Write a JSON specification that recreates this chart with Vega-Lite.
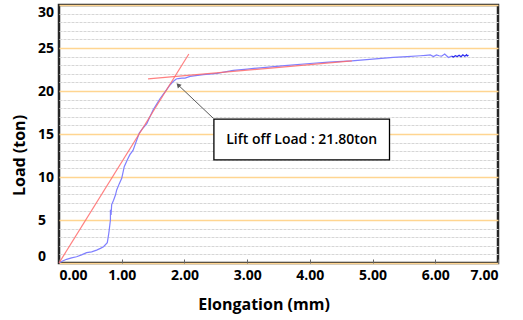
{
  "$schema": "https://vega.github.io/schema/vega-lite/v6.json",
  "autosize": "none",
  "width": 439,
  "height": 258,
  "padding": {"left": 59, "top": 5, "right": 25, "bottom": 57},
  "background": "white",
  "config": {
    "view": {"stroke": "#262626", "strokeWidth": 2.5},
    "font": "Open Sans"
  },
  "datasets": {
    "curve": [
      {"x": 0, "y": 0, "s": "a"}, {"x": 0.05, "y": 0.2, "s": "a"}, {"x": 0.12, "y": 0.43, "s": "a"}, {"x": 0.2, "y": 0.6, "s": "a"},
      {"x": 0.28, "y": 0.73, "s": "a"}, {"x": 0.36, "y": 0.95, "s": "a"}, {"x": 0.44, "y": 1.2, "s": "a"}, {"x": 0.52, "y": 1.3, "s": "a"},
      {"x": 0.6, "y": 1.5, "s": "a"}, {"x": 0.66, "y": 1.7, "s": "a"}, {"x": 0.71, "y": 1.9, "s": "a"}, {"x": 0.77, "y": 2.36, "s": "a"},
      {"x": 0.78, "y": 2.8, "s": "a"}, {"x": 0.79, "y": 3.26, "s": "a"}, {"x": 0.8, "y": 3.8, "s": "a"}, {"x": 0.81, "y": 4.4, "s": "a"},
      {"x": 0.82, "y": 5.0, "s": "a"}, {"x": 0.83, "y": 5.6, "s": "a"}, {"x": 0.82, "y": 6.2, "s": "a"}, {"x": 0.84, "y": 6.8, "s": "a"},
      {"x": 0.87, "y": 7.3, "s": "a"}, {"x": 0.9, "y": 7.9, "s": "a"}, {"x": 0.92, "y": 8.5, "s": "a"}, {"x": 0.96, "y": 9.2, "s": "a"},
      {"x": 1.0, "y": 9.85, "s": "a"}, {"x": 1.02, "y": 10.5, "s": "a"}, {"x": 1.04, "y": 11.2, "s": "a"}, {"x": 1.09, "y": 12.0, "s": "a"},
      {"x": 1.13, "y": 12.6, "s": "a"}, {"x": 1.18, "y": 13.1, "s": "a"}, {"x": 1.23, "y": 14.1, "s": "a"}, {"x": 1.28, "y": 15.1, "s": "a"},
      {"x": 1.34, "y": 15.7, "s": "a"}, {"x": 1.4, "y": 16.2, "s": "a"}, {"x": 1.45, "y": 17.0, "s": "a"}, {"x": 1.5, "y": 17.8, "s": "a"},
      {"x": 1.56, "y": 18.5, "s": "a"}, {"x": 1.61, "y": 19.1, "s": "a"}, {"x": 1.67, "y": 19.7, "s": "a"}, {"x": 1.72, "y": 20.2, "s": "a"},
      {"x": 1.77, "y": 20.7, "s": "a"}, {"x": 1.82, "y": 21.1, "s": "a"}, {"x": 1.87, "y": 21.4, "s": "a"}, {"x": 1.9, "y": 21.45, "s": "a"},
      {"x": 1.96, "y": 21.5, "s": "a"}, {"x": 2.01, "y": 21.5, "s": "a"}, {"x": 2.09, "y": 21.7, "s": "a"}, {"x": 2.3, "y": 21.9, "s": "a"},
      {"x": 2.52, "y": 22.05, "s": "a"}, {"x": 2.78, "y": 22.4, "s": "a"}, {"x": 3.0, "y": 22.55, "s": "a"}, {"x": 3.21, "y": 22.7, "s": "a"},
      {"x": 3.6, "y": 22.95, "s": "a"}, {"x": 4.0, "y": 23.2, "s": "a"}, {"x": 4.3, "y": 23.35, "s": "a"}, {"x": 4.67, "y": 23.5, "s": "a"},
      {"x": 5.0, "y": 23.7, "s": "a"}, {"x": 5.33, "y": 23.9, "s": "a"}, {"x": 5.55, "y": 24.0, "s": "a"}, {"x": 5.76, "y": 24.1, "s": "a"},
      {"x": 5.85, "y": 24.15, "s": "a"}, {"x": 5.92, "y": 24.2, "s": "a"}, {"x": 5.97, "y": 24.0, "s": "a"}, {"x": 6.02, "y": 24.2, "s": "a"},
      {"x": 6.06, "y": 24.1, "s": "a"}, {"x": 6.1, "y": 24.05, "s": "a"}, {"x": 6.15, "y": 24.3, "s": "a"}, {"x": 6.21, "y": 23.9, "s": "a"},
      {"x": 6.26, "y": 24.05, "s": "a"},
      {"x": 6.26, "y": 24.05, "s": "b"}, {"x": 6.29, "y": 23.95, "s": "b"}, {"x": 6.32, "y": 24.1, "s": "b"}, {"x": 6.35, "y": 24.0, "s": "b"},
      {"x": 6.38, "y": 24.15, "s": "b"}, {"x": 6.41, "y": 23.98, "s": "b"}, {"x": 6.44, "y": 24.2, "s": "b"}, {"x": 6.47, "y": 24.05, "s": "b"},
      {"x": 6.5, "y": 24.22, "s": "b"}, {"x": 6.53, "y": 24.15, "s": "b"}, {"x": 6.51, "y": 24.08, "s": "b"}
    ],
    "fits": [
      {"x": 0, "y": 0, "line": "elastic"}, {"x": 2.07, "y": 24.3, "line": "elastic"},
      {"x": 1.42, "y": 21.4, "line": "plastic"}, {"x": 4.67, "y": 23.5, "line": "plastic"}
    ],
    "note": [
      {"x1": 2.47, "x2": 5.27, "y1": 16.72, "y2": 11.98, "xc": 3.87, "yc": 14.34, "label": "Lift off Load : 21.80ton",
       "ax1": 2.46, "ay1": 16.83, "ax2": 1.9, "ay2": 20.7}
    ]
  },
  "layer": [
    {
      "data": {"name": "curve"},
      "mark": {"type": "line", "strokeWidth": 1.2, "clip": true},
      "encoding": {
        "x": {
          "field": "x", "type": "quantitative",
          "scale": {"domain": [0, 7], "nice": false, "zero": false},
          "axis": {
            "title": "Elongation (mm)", "values": [0, 1, 2, 3, 4, 5, 6, 7], "tickCount": 8, "format": ".2f", "grid": false,
            "domain": false, "tickSize": -4, "tickColor": "#666", "labelPadding": 9,
            "labelFont": "Open Sans", "labelFontSize": 14, "labelFontWeight": "bold", "labelColor": "#000",
            "titleFont": "Open Sans", "titleFontSize": 16, "titleFontWeight": "bold", "titleColor": "#000",
            "titleX": 204.5, "titleY": 46, "titleBaseline": "alphabetic", "titleAnchor": "middle"
          }
        },
        "y": {
          "field": "y", "type": "quantitative",
          "scale": {"domain": [0, 30], "nice": false},
          "axis": {
            "title": "Load (ton)",
            "values": [0, 1, 2, 3, 4, 5, 6, 7, 8, 9, 10, 11, 12, 13, 14, 15, 16, 17, 18, 19, 20, 21, 22, 23, 24, 25, 26, 27, 28, 29, 30],
            "tickCount": 40,
            "labelExpr": "datum.value % 5 === 0 ? datum.label : ''",
            "labelOverlap": false,
            "labelFlush": true, "ticks": false, "domain": false,
            "labelAlign": "left", "labelPadding": 21.5,
            "labelFont": "Open Sans", "labelFontSize": 14, "labelFontWeight": "bold", "labelColor": "#000",
            "grid": true,
            "gridColor": {"condition": {"test": "datum.value % 5 === 0", "value": "#FFD591"}, "value": "#D6D6D6"},
            "gridDash": {"condition": {"test": "datum.value % 5 === 0", "value": []}, "value": [3, 1]},
            "gridWidth": {"condition": {"test": "datum.value % 5 === 0", "value": 1.6}, "value": 1},
            "titleFont": "Open Sans", "titleFontSize": 16, "titleFontWeight": "bold", "titleColor": "#000",
            "titleAngle": -90, "titleX": -40, "titleY": 150, "titleAlign": "center", "titleBaseline": "middle"
          }
        },
        "detail": {"field": "s"},
        "color": {"field": "s", "type": "nominal", "scale": {"domain": ["a", "b"], "range": ["#7F7FFF", "#2626F0"]}, "legend": null}
      }
    },
    {
      "data": {"name": "fits"},
      "mark": {"type": "line", "strokeWidth": 1.2, "color": "#FF6A6A", "opacity": 0.85},
      "encoding": {
        "x": {"field": "x", "type": "quantitative"},
        "y": {"field": "y", "type": "quantitative"},
        "detail": {"field": "line"}
      }
    },
    {
      "data": {"name": "note"},
      "mark": {"type": "rule", "color": "#595959", "strokeWidth": 1},
      "encoding": {
        "x": {"field": "ax1", "type": "quantitative"},
        "y": {"field": "ay1", "type": "quantitative"},
        "x2": {"field": "ax2"},
        "y2": {"field": "ay2"}
      }
    },
    {
      "data": {"name": "note"},
      "mark": {"type": "point", "shape": "triangle-up", "filled": true, "color": "#595959", "size": 28, "angle": -45, "opacity": 1},
      "encoding": {
        "x": {"field": "ax2", "type": "quantitative"},
        "y": {"field": "ay2", "type": "quantitative"}
      }
    },
    {
      "data": {"name": "note"},
      "mark": {"type": "rect", "fill": "white", "stroke": "#000", "strokeWidth": 1.3},
      "encoding": {
        "x": {"field": "x1", "type": "quantitative"},
        "x2": {"field": "x2"},
        "y": {"field": "y1", "type": "quantitative"},
        "y2": {"field": "y2"}
      }
    },
    {
      "data": {"name": "note"},
      "mark": {"type": "text", "font": "Open Sans", "fontSize": 14, "fontWeight": 600, "color": "#000", "align": "center", "baseline": "middle"},
      "encoding": {
        "x": {"field": "xc", "type": "quantitative"},
        "y": {"field": "yc", "type": "quantitative"},
        "text": {"field": "label"}
      }
    }
  ]
}
